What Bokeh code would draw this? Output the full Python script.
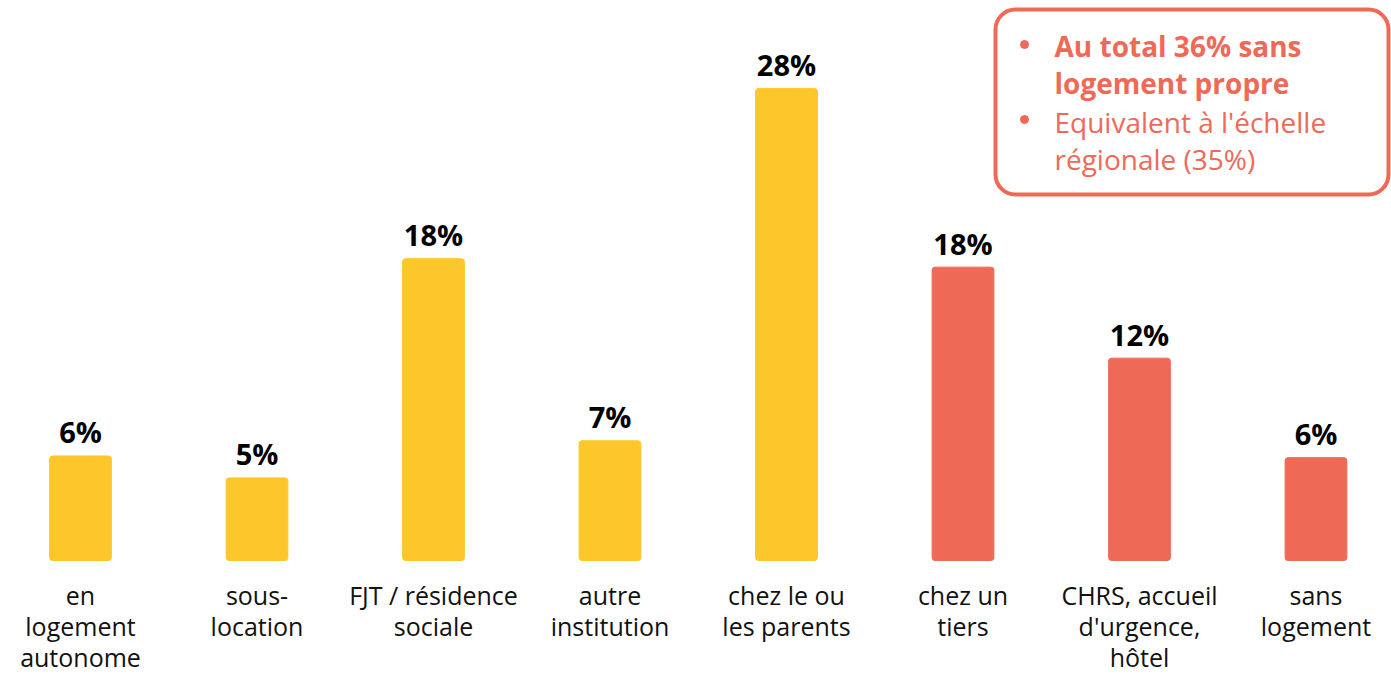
from bokeh.plotting import figure
from bokeh.models import ColumnDataSource, Range1d, BoxAnnotation
from bokeh.core.properties import value
from bokeh.embed import file_html
from bokeh.resources import INLINE

categories = ["en\nlogement\nautonome", "sous-\nlocation", "FJT / résidence\nsociale",
              "autre\ninstitution", "chez le ou\nles parents", "chez un\ntiers",
              "CHRS, accueil\nd'urgence,\nhôtel", "sans\nlogement"]
values = [6.2, 4.9, 17.9, 7.1, 28.0, 17.4, 12.0, 6.1]
value_labels = ["6%", "5%", "18%", "7%", "28%", "18%", "12%", "6%"]
groups = ["logé", "logé", "logé", "logé", "logé", "sans", "sans", "sans"]
box_lines = ["Au total 36% sans", "logement propre", "Equivalent à l'échelle", "régionale (35%)"]
box_bold = [True, True, False, False]

YELLOW = "#FDC72B"
RED = "#EE6A57"
FONT = "Open Sans"

W, H = 1391, 679
px_per_unit_x = 176.5
px_per_unit_y = 16.86
x0 = -80 / px_per_unit_x
y1 = 560 / px_per_unit_y
xr = Range1d(x0, x0 + W / px_per_unit_x)
yr = Range1d(y1 - H / px_per_unit_y, y1)

def dx(px):  # page x -> data
    return px / px_per_unit_x + x0

def dy(py):  # page y -> data
    return y1 - py / px_per_unit_y

p = figure(width=W, height=H, x_range=xr, y_range=yr, output_backend="svg",
           toolbar_location=None, min_border=0, outline_line_color=None,
           background_fill_color="white", border_fill_color="white")
p.axis.visible = False
p.grid.visible = False

xs = list(range(len(categories)))
colors = [YELLOW if g == "logé" else RED for g in groups]
label_y = [v + 24 / px_per_unit_y for v in values]
src = ColumnDataSource(dict(x=xs, top=values, color=colors, lab=value_labels, cat=categories,
                            ly=label_y))

box = BoxAnnotation(left=dx(995), right=dx(1388), top=dy(9), bottom=dy(194),
                    fill_color="white", fill_alpha=1.0, line_color=RED, line_alpha=1.0,
                    line_width=4, border_radius=20, level="underlay")
p.add_layout(box)

p.vbar(x="x", top="top", bottom=0, width=0.35, fill_color="color", line_color="color",
       line_width=1, source=src, border_radius=3)

p.text(x="x", y="ly", text="lab", source=src, text_align="center", text_baseline="alphabetic",
       text_font=value(FONT), text_font_style="bold", text_font_size="29px",
       text_color="#000000")

p.text(x="x", y=dy(577), text="cat", source=src, text_align="center", text_baseline="top",
       text_font=value(FONT), text_font_size="25px", text_color="#111111", text_line_height=0.92)

baselines = [45, 82, 121, 158]
p.scatter(x=[dx(1024)] * 2, y=[dy(44), dy(119)], size=8, fill_color=RED, line_color=RED)

for line, bold, b in zip(box_lines, box_bold, baselines):
    p.text(x=[dx(1054)], y=[dy(b)], text=[line], text_align="left", text_baseline="alphabetic",
           text_font=value(FONT), text_font_style="bold" if bold else "normal",
           text_font_size="28px", text_color=RED)

open("out.html", "w").write(file_html(p, INLINE))
